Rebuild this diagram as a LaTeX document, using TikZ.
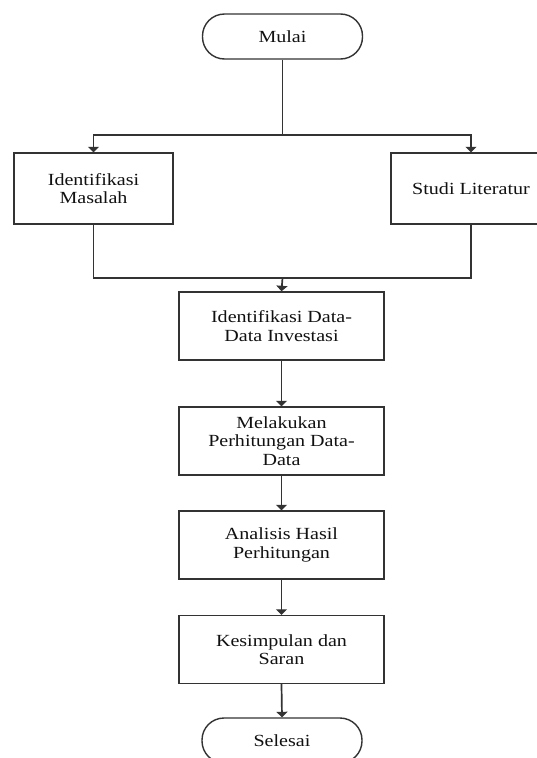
\documentclass[tikz,border=0pt]{standalone}
\usepackage{fontspec}
\setmainfont{Liberation Serif}[FakeStretch=1.18]
\usetikzlibrary{arrows.meta}
\definecolor{linec}{HTML}{333333}
\definecolor{textc}{HTML}{111111}
\begin{document}
\begin{tikzpicture}[x=1pt,y=-1pt,
  every node/.style={font=\fontsize{17}{18.5}\selectfont,text=textc},
  box/.style={draw=linec,line width=1.4pt,align=center,inner sep=0pt},
  term/.style={draw=linec,line width=1.4pt,rounded corners=22pt,inner sep=0pt,minimum width=160pt,minimum height=45pt},
  conn/.style={draw=linec,line width=1.7pt},
  arr/.style={conn,-{Triangle[length=5.5pt,width=11pt]}}]
\useasboundingbox[fill=white] (0,0) rectangle (537,758);
\node[term] (mulai) at (282.5,36.5) {Mulai};
\node[box,minimum width=159pt,minimum height=71pt] (im) at (93.5,188.5) {Identifikasi\\Masalah};
\node[box,minimum width=160pt,minimum height=71pt] (sl) at (471,188.5) {Studi Literatur};
\coordinate (split) at (282.5,135);
\coordinate (merge) at (282.5,278);
\node[box,minimum width=205pt,minimum height=68pt] (b1) at (281.5,326) {Identifikasi Data-\\Data Investasi};
\node[box,minimum width=205pt,minimum height=68pt] (b2) at (281.5,441) {Melakukan\\Perhitungan Data-\\Data};
\node[box,minimum width=205pt,minimum height=68pt] (b3) at (281.5,545) {Analisis Hasil\\Perhitungan};
\node[box,minimum width=205pt,minimum height=68pt] (b4) at (281.5,649.5) {Kesimpulan dan\\Saran};
\node[term] (selesai) at (282,740.5) {Selesai};
% connectors
\draw[conn] (mulai.south) -- (split);
\draw[arr] (split) -| (im.north);
\draw[arr] (split) -| (sl.north);
\draw[conn] (im.south) |- (merge);
\draw[conn] (sl.south) |- (merge);
\draw[arr] (merge) -- (b1.north);
\draw[arr] (b1.south) -- (b2.north);
\draw[arr] (b2.south) -- (b3.north);
\draw[arr] (b3.south) -- (b4.north);
\draw[arr] (b4.south) -- (selesai.north);
\end{tikzpicture}
\end{document}
